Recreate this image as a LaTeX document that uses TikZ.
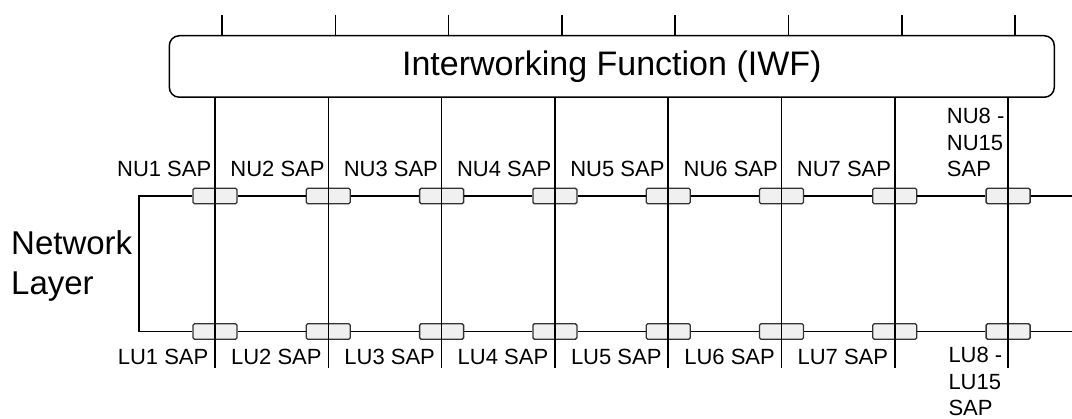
\documentclass[tikz,border=0pt]{standalone}
\usepackage{fontspec}
\setmainfont{Liberation Sans}
\begin{document}
\begin{tikzpicture}[x=1pt,y=-1pt,
  wire/.style={line width=1.6pt, black},
  sapbox/.style={draw=black!80, fill=black!6, line width=1.3pt, minimum width=44pt, minimum height=15.5pt, inner sep=0pt, rounded corners=1.5pt},
  lbl/.style={font=\fontsize{22}{26.5}\selectfont, inner sep=0pt},
  iwfbox/.style={draw, line width=1.5pt, rounded corners=10pt, minimum width=885pt, minimum height=61.5pt, inner sep=0pt, font=\fontsize{34}{40}\selectfont},
]
\useasboundingbox (0,0) rectangle (1072,419);
\node[iwfbox] (iwf) at (611.8,66.5) {Interworking Function (IWF)};
\foreach \i in {1,...,8} {
  \pgfmathsetmacro\xx{215+113.3*(\i-1)}
  \node[sapbox] (nu\i) at (\xx,196) {};
  \node[sapbox] (lu\i) at (\xx,331.5) {};
  \coordinate (tk\i) at (\xx+7,15);
  \coordinate (bt\i) at (\xx,368);
}
\coordinate (ctop) at (139,196);
\coordinate (cbot) at (139,331.5);
\coordinate (rtop) at (1072,196);
\coordinate (rbot) at (1072,331.5);
\draw[wire] (nu1.west) -- (ctop) -- (cbot) -- (lu1.west);
\foreach \i/\j in {1/2,2/3,3/4,4/5,5/6,6/7,7/8} {
  \draw[wire] (nu\i.east) -- (nu\j.west);
  \draw[wire] (lu\i.east) -- (lu\j.west);
}
\draw[wire] (nu8.east) -- (rtop);
\draw[wire] (lu8.east) -- (rbot);
\foreach \i in {1,...,8} {
  \draw[wire] (tk\i) -- (tk\i |- iwf.north);
  \draw[wire] (iwf.south -| nu\i) -- (bt\i);
}
\foreach \i in {1,...,7} {
  \node[lbl, anchor=base east] (nul\i) at ([xshift=-3.5pt,yshift=19.3pt]nu\i.center) {NU\i\ SAP};
  \node[lbl, anchor=base east] (lul\i) at ([xshift=-6.5pt,yshift=-33.5pt]lu\i.center) {LU\i\ SAP};
}
\node[lbl, anchor=base west, align=left] (nul8) at ([xshift=-61.4pt,yshift=19.3pt]nu8.center) {NU8 -\\NU15\\SAP};
\node[lbl, anchor=base west, align=left] (lul8) at ([xshift=-59.8pt,yshift=-84.5pt]lu8.center) {LU8 -\\LU15\\SAP};
\node[anchor=base west, align=left, inner sep=0pt, font=\fontsize{33}{40}\selectfont] (nl) at (11,295) {Network\\Layer};
\end{tikzpicture}
\end{document}
